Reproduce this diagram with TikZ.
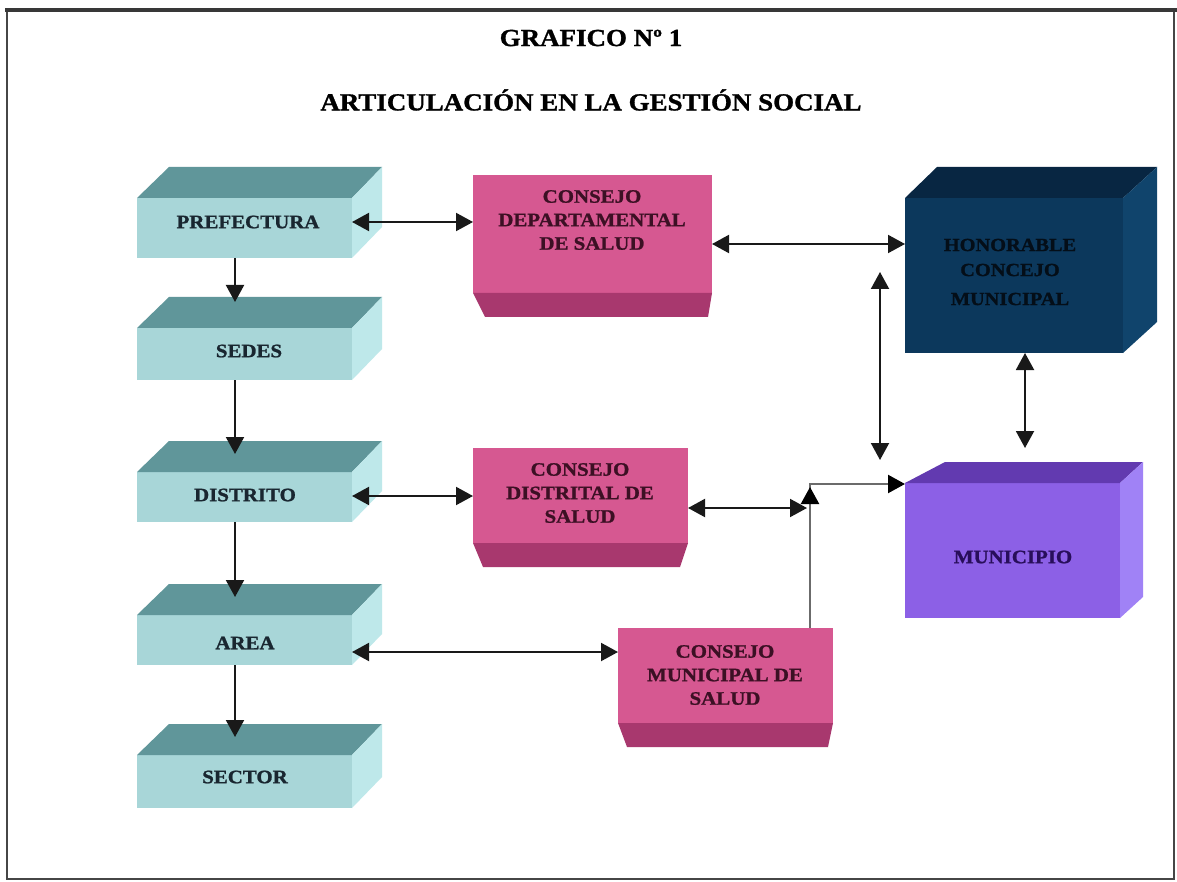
\documentclass[tikz,border=0pt]{standalone}
\usepackage{fontspec}
\setmainfont{Liberation Serif}[FakeStretch=1.1, BoldFeatures={FakeBold=1.2}]
\usetikzlibrary{arrows.meta,calc}

\definecolor{cyfront}{RGB}{168,214,216}
\definecolor{cytop}{RGB}{96,150,154}
\definecolor{cyside}{RGB}{190,232,234}
\definecolor{cytext}{RGB}{25,38,48}
\definecolor{pkfront}{RGB}{214,88,145}
\definecolor{pkbottom}{RGB}{168,56,110}
\definecolor{pktext}{RGB}{60,16,36}
\definecolor{nvfront}{RGB}{12,56,92}
\definecolor{nvtop}{RGB}{8,38,66}
\definecolor{nvside}{RGB}{16,68,108}
\definecolor{nvtext}{RGB}{4,14,24}
\definecolor{pufront}{RGB}{140,96,230}
\definecolor{putop}{RGB}{98,58,176}
\definecolor{puside}{RGB}{160,130,246}
\definecolor{putext}{RGB}{40,14,90}
\definecolor{frame}{RGB}{70,70,70}

% top and right faces of a box whose front face is the node #1
% #2 = left depth, #3 = right depth, #4 = rise, #5 = top colour, #6 = side colour
\newcommand\boxfaces[6]{%
  \fill[#5] (#1.north west) -- ++(#2,-#4) -- ($(#1.north east)+(#3,-#4)$) -- (#1.north east) -- cycle;
  \fill[#6] (#1.north east) -- ++(#3,-#4) -- ($(#1.south east)+(#3,-#4)$) -- (#1.south east) -- cycle;}
% darker underside of a pink slab
\newcommand\slabbottom[3]{%
  \fill[pkbottom] (#1.south west) -- (#1.south east) -- ++(-#3,24) -- ($(#1.south west)+(#2,24)$) -- cycle;}

\tikzset{
  face/.style={draw=none, inner sep=0pt, outer sep=0pt},
  cybox/.style={face, fill=cyfront, minimum width=215pt},
  pkbox/.style={face, fill=pkfront},
  lbl/.style={inner sep=0pt, align=center, font=\bfseries\fontsize{19}{23.5}\selectfont},
  ttl/.style={inner sep=0pt, font=\bfseries\fontsize{24.5}{28}\selectfont},
  tip/.tip={Triangle[length=17pt,width=18pt]},
  link/.style={line width=2pt, draw=black!90, tip-tip},
  down/.style={line width=2pt, draw=black!90, -tip},
  glink/.style={line width=2.3pt, draw=black!58, -{Triangle[length=17pt,width=18pt,black]}},
}

\begin{document}
\begin{tikzpicture}[x=1pt,y=-1pt]
\useasboundingbox (0,0) rectangle (1177,882);
\fill[white] (0,0) rectangle (1177,882);

% frame
\draw[line width=2.2pt, frame] (7,10) rectangle (1174,879);
\draw[line width=3.5pt, frame!80!black] (5,10) -- (1177,10);

% titles
\node[ttl] (t1) at (591,38) {GRAFICO Nº 1};
\node[ttl] (t2) at (591,100) {ARTICULACIÓN EN LA GESTIÓN SOCIAL};

% left column of boxes
\node[cybox, minimum height=60pt] (pref) at (244.5,228) {};
\node[cybox, minimum height=52pt] (sedes) at (244.5,354) {};
\node[cybox, minimum height=50pt] (dist) at (244.5,497) {};
\node[cybox, minimum height=50pt] (area) at (244.5,640) {};
\node[cybox, minimum height=53pt] (sect) at (244.5,781.5) {};
\foreach \b in {pref,sedes,dist,area,sect}{\boxfaces{\b}{32}{30}{31}{cytop}{cyside}}

\node[lbl, text=cytext] (pref-t) at (248,222) {PREFECTURA};
\node[lbl, text=cytext] (sedes-t) at (249,351) {SEDES};
\node[lbl, text=cytext] (dist-t) at (245,495) {DISTRITO};
\node[lbl, text=cytext] (area-t) at (245,643) {AREA};
\node[lbl, text=cytext] (sect-t) at (245,777) {SECTOR};

% pink councils
\node[pkbox, minimum width=239pt, minimum height=118pt] (dept) at (592.5,234) {};
\slabbottom{dept}{12}{4}
\node[pkbox, minimum width=215pt, minimum height=95pt] (cdist) at (580.5,495.5) {};
\slabbottom{cdist}{10}{8}
\node[pkbox, minimum width=215pt, minimum height=95pt] (cmun) at (725.5,675.5) {};
\slabbottom{cmun}{9}{5}

\node[lbl, text=pktext] (dept-t) at (592,220) {CONSEJO\\DEPARTAMENTAL\\DE SALUD};
\node[lbl, text=pktext] (cdist-t) at (580,493) {CONSEJO\\DISTRITAL DE\\SALUD};
\node[lbl, text=pktext] (cmun-t) at (725,675) {CONSEJO\\MUNICIPAL DE\\SALUD};

% municipal bodies
\node[face, fill=nvfront, minimum width=218pt, minimum height=155pt] (hon) at (1014,275.5) {};
\boxfaces{hon}{32}{34}{31}{nvtop}{nvside}
\node[lbl, text=nvtext, font=\bfseries\fontsize{18.5}{25}\selectfont] (hon-t) at (1010,272) {HONORABLE\\CONCEJO\\[4pt]MUNICIPAL};

\node[face, fill=pufront, minimum width=215pt, minimum height=135pt] (mun) at (1012.5,550.5) {};
\boxfaces{mun}{40}{23}{21}{putop}{puside}
\node[lbl, text=putext] (mun-t) at (1013,557) {MUNICIPIO};

% free ends of connectors
\coordinate (vtop) at (880,272);
\coordinate (vbot) at (880,460);
\coordinate (junc) at (807,508);
\coordinate (munin) at (1025,448);

% hierarchy
\draw[down] ([xshift=-9.5pt]pref.south) -- ([xshift=-9.5pt,yshift=26pt]sedes.north);
\draw[down] ([xshift=-9.5pt]sedes.south) -- ([xshift=-9.5pt,yshift=18pt]dist.north);
\draw[down] ([xshift=-9.5pt]dist.south) -- ([xshift=-9.5pt,yshift=18pt]area.north);
\draw[down] ([xshift=-9.5pt]area.south) -- ([xshift=-9.5pt,yshift=18pt]sect.north);

% links to the councils
\draw[link] ([yshift=6pt]pref.east) -- ([yshift=6pt]pref.east -| dept.west);
\draw[link] ([yshift=1pt]dist.east) -- ([yshift=1pt]dist.east -| cdist.west);
\draw[link] ([yshift=-12pt]area.east) -- ([yshift=-12pt]area.east -| cmun.west);
\draw[link] ([yshift=-10pt]dept.east) -- ([yshift=-10pt]dept.east -| hon.west);
\draw[link] ([yshift=-12.5pt]cdist.east) -- (junc);

% links between municipal bodies
\draw[link] (vtop) -- (vbot);
\draw[link] ([xshift=11pt]hon.south) -- (munin);

% municipal council up to the municipality
\draw[glink] ([xshift=84.5pt]cmun.north) |- ([yshift=-1pt]mun.north west);
\draw[glink] ($(cmun.north)+(84.5,-110)$) -- ($(cmun.north)+(84.5,-141)$);
\end{tikzpicture}
\end{document}
